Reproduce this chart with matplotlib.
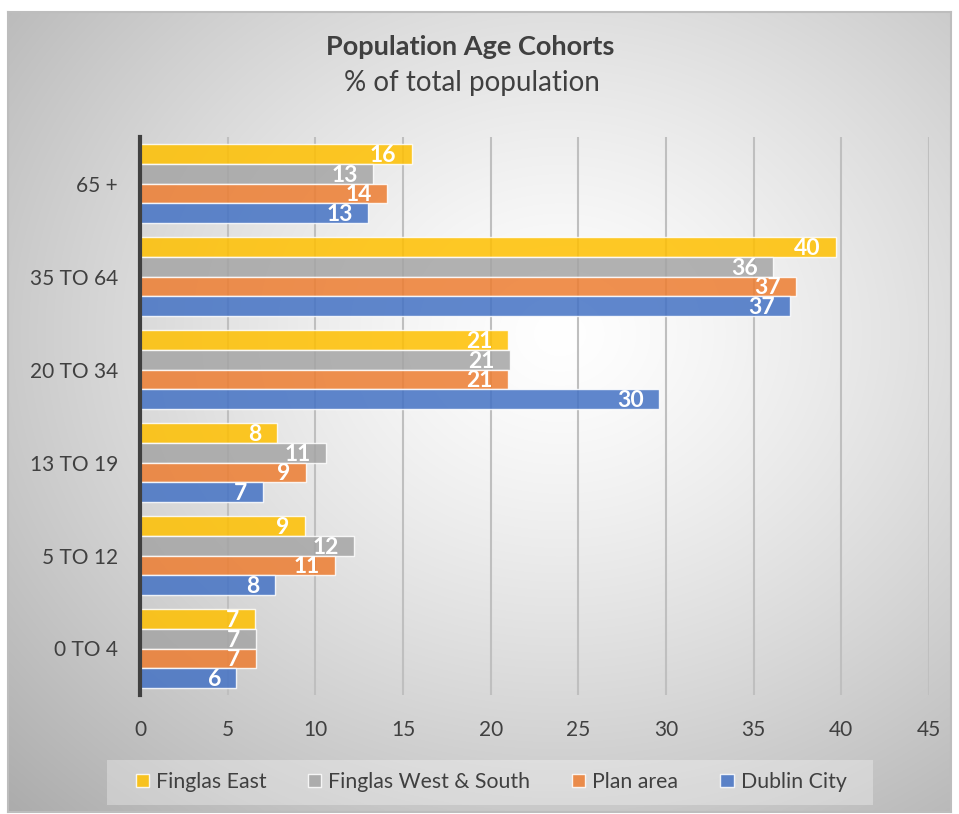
import numpy as np
import matplotlib
matplotlib.use("Agg")
import matplotlib.pyplot as plt
from matplotlib.patches import Patch, Rectangle

categories = ["0 TO 4", "5 TO 12", "13 TO 19", "20 TO 34", "35 TO 64", "65 +"]
series_names = ["Finglas East", "Finglas West & South", "Plan area", "Dublin City"]
finglas_east = [6.55, 9.4, 7.8, 21.0, 39.7, 15.5]
finglas_west_south = [6.6, 12.2, 10.6, 21.1, 36.1, 13.3]
plan_area = [6.6, 11.1, 9.45, 21.0, 37.4, 14.1]
dublin_city = [5.5, 7.7, 7.0, 29.6, 37.1, 13.0]
series_values = [finglas_east, finglas_west_south, plan_area, dublin_city]
colors = ["#FFC000", "#A5A5A5", "#ED7D31", "#4472C4"]
x_ticks = [0, 5, 10, 15, 20, 25, 30, 35, 40, 45]

FONT = ["Lato", "DejaVu Sans"]
plt.rcParams["font.family"] = FONT

W, H = 959, 814
fig = plt.figure(figsize=(W / 100, H / 100), dpi=100)
fig.patch.set_facecolor("white")

# background radial gradient panel
bx0, by0, bx1, by1 = 8, 12, 951, 812
bg = fig.add_axes([bx0 / W, 1 - by1 / H, (bx1 - bx0) / W, (by1 - by0) / H], zorder=-5)
yy, xx = np.mgrid[0:200, 0:240]
cx, cy = 140, 80
r = np.sqrt(((xx - cx) / 240) ** 2 + ((yy - cy) / 200) ** 2) / 0.72
val = np.clip(1 - 0.27 * np.clip(r, 0, 1.3) ** 1.3, 0, 1)
bg.imshow(np.dstack([val, val, val]), aspect="auto", extent=[0, 1, 0, 1], interpolation="bicubic")
bg.set_xticks([]); bg.set_yticks([])
for s in bg.spines.values():
    s.set_color("#BDBDBD"); s.set_linewidth(1.5)
# legend background box
bg.add_patch(Rectangle(((107 - bx0) / (bx1 - bx0), 1 - (805 - by0) / (by1 - by0)),
                       (873 - 107) / (bx1 - bx0), 45 / (by1 - by0),
                       transform=bg.transAxes, facecolor="white", alpha=0.3,
                       edgecolor="none", zorder=5))

# main axes
ax0, ay0, ax1, ay1 = 140, 137, 929, 695
ax = fig.add_axes([ax0 / W, 1 - ay1 / H, (ax1 - ax0) / W, (ay1 - ay0) / H])
ax.patch.set_alpha(0)
ax.set_xlim(0, 45)
ax.set_ylim(-0.5, 5.5)

y = np.arange(len(categories))
bh = 0.2125
offsets = [1.5 * bh, 0.5 * bh, -0.5 * bh, -1.5 * bh]
for vals, name, col, off in zip(series_values, series_names, colors, offsets):
    bars = ax.barh(y + off, vals, height=bh, color=col, alpha=0.85,
                   edgecolor=(1, 1, 1, 0.6), linewidth=1.0, label=name, zorder=3)
    for b, v in zip(bars, vals):
        ax.annotate(f"{int(v + 0.5)}", xy=(v, b.get_y() + b.get_height() / 2),
                    xytext=(-11, -1), textcoords="offset points",
                    ha="right", va="center", color="white", fontsize=16.5,
                    fontweight="bold", zorder=4)

ax.set_xticks(x_ticks)
ax.set_xticklabels([str(t) for t in x_ticks], fontsize=15, color="#404040")
ax.set_yticks(y)
ax.set_yticklabels(categories, fontsize=15, color="#404040")
ax.tick_params(axis="x", length=0, pad=18)
ax.tick_params(axis="y", length=0, pad=16)
ax.grid(axis="x", color="#BFBFBF", linewidth=1.5, zorder=0)
ax.set_axisbelow(True)
for k in ["top", "right", "bottom"]:
    ax.spines[k].set_visible(False)
ax.spines["left"].set_color("#404040")
ax.spines["left"].set_linewidth(3)
ax.spines["left"].set_zorder(5)

fig.text(470 / W, 1 - 47 / H, "Population Age Cohorts", ha="center", va="center",
         fontsize=19.5, fontweight="bold", color="#404040")
fig.text(472 / W, 1 - 83 / H, "% of total population", ha="center", va="center",
         fontsize=20, color="#404040")

# legend
handles = [Patch(facecolor=c, alpha=0.85, edgecolor=(1, 1, 1, 0.6)) for c in colors]
leg = fig.legend(handles, series_names, loc="center", bbox_to_anchor=(491 / W, 1 - 782 / H),
                 ncol=4, frameon=False, fontsize=15.3, handlelength=0.62, handleheight=0.62,
                 handletextpad=0.33, columnspacing=1.97, borderpad=0.5,
                 labelcolor="#404040")

fig.savefig("out.png", dpi=100)
